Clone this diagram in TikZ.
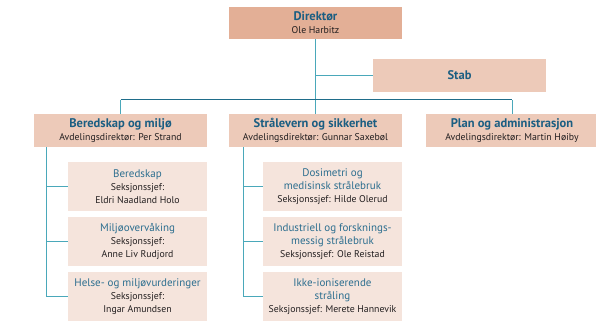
\documentclass[tikz,border=0pt]{standalone}
\usepackage{fontspec}
\setmainfont{PT Sans}
\definecolor{dirfill}{HTML}{E3AF96}
\definecolor{deptfill}{HTML}{EDCAB9}
\definecolor{subfill}{HTML}{F5E4DC}
\definecolor{titleblue}{HTML}{1B5E82}
\definecolor{subblue}{HTML}{2C6E8F}
\definecolor{bodytext}{HTML}{231F20}
\definecolor{branchline}{HTML}{4AA8BA}
\definecolor{barline}{HTML}{1F6D8A}
\tikzset{
  box/.style={draw=none, inner sep=0pt, align=center, text=bodytext},
  dirbox/.style={box, fill=dirfill, minimum width=173pt, minimum height=32pt},
  deptbox/.style={box, fill=deptfill, minimum width=173pt, minimum height=33pt},
  subbox/.style={box, fill=subfill, minimum width=139pt, minimum height=49pt},
  branch/.style={draw=branchline, line width=1pt},
  bar/.style={draw=barline, line width=1.4pt},
}
\newcommand{\hd}[1]{{\fontsize{12.5}{13}\selectfont\bfseries\color{titleblue}#1}}
\newcommand{\sh}[1]{{\fontsize{11}{13}\selectfont\color{subblue}#1}}
\begin{document}
\begin{tikzpicture}[x=1pt, y=-1pt, font=\fontsize{9.8}{13}\selectfont]
\useasboundingbox (0,0) rectangle (596,321);
% boxes
\node[dirbox] (dir) at (315.5,23) {\hd{Direktør}\\Ole Harbitz};
\node[deptbox] (stab) at (459.5,75.5) {\hd{Stab}};
\node[deptbox] (ber) at (120.5,130.5) {\hd{Beredskap og miljø}\\Avdelingsdirektør: Per Strand};
\node[deptbox] (str) at (315.5,130.5) {\hd{Strålevern og sikkerhet}\\Avdelingsdirektør: Gunnar Saxebøl};
\node[deptbox] (plan) at (512,130.5) {\hd{Plan og administrasjon}\\Avdelingsdirektør: Martin Høiby};
\node[subbox] (b1) at (137.5,186.5) {\sh{Beredskap}\\Seksjonssjef:\\Eldri Naadland Holo};
\node[subbox] (b2) at (137.5,241.5) {\sh{Miljøovervåking}\\Seksjonssjef:\\Anne Liv Rudjord};
\node[subbox] (b3) at (137.5,296.5) {\sh{Helse- og miljøvurderinger}\\Seksjonssjef:\\Ingar Amundsen};
\node[subbox] (s1) at (332.5,186.5) {\sh{Dosimetri og}\\\sh{medisinsk strålebruk}\\Seksjonssjef: Hilde Olerud};
\node[subbox] (s2) at (332.5,241.5) {\sh{Industriell og forsknings-}\\\sh{messig strålebruk}\\Seksjonssjef: Ole Reistad};
\node[subbox] (s3) at (332.5,296.5) {\sh{Ikke-ioniserende}\\\sh{stråling}\\Seksjonssjef: Merete Hannevik};
% connectors
\coordinate (bar) at (316,99.5);
\coordinate (lt) at (46,147);
\coordinate (rt) at (243,147);
\draw[branch] (dir.south) -- (str.north);
\draw[branch] (dir.south |- stab.west) -- (stab.west);
\draw[branch] (ber.north) -- (ber.north |- bar);
\draw[branch] (plan.north) -- (plan.north |- bar);
\draw[bar] (ber.north |- bar) -- (plan.north |- bar);
\draw[branch] (lt) |- (b3.west);
\draw[branch] (lt |- b1.west) -- (b1.west);
\draw[branch] (lt |- b2.west) -- (b2.west);
\draw[branch] (rt) |- (s3.west);
\draw[branch] (rt |- s1.west) -- (s1.west);
\draw[branch] (rt |- s2.west) -- (s2.west);
\end{tikzpicture}
\end{document}
